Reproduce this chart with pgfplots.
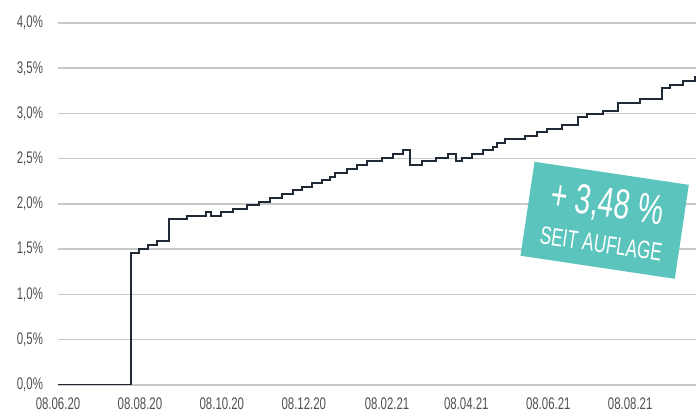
\documentclass[border=0pt]{standalone}
\usepackage{pgfplots}
\pgfplotsset{compat=1.18}
\usepackage{fontspec}
\setmainfont{Liberation Sans}[FakeStretch=0.68]
\definecolor{gridgray}{HTML}{C8C8C8}
\definecolor{linenavy}{HTML}{1F2A36}
\definecolor{badge}{HTML}{5BC4BC}
\definecolor{labelgray}{HTML}{505050}

\begin{document}
\begin{tikzpicture}
\begin{axis}[
  scale only axis,
  width=319pt, height=181pt,
  xmin=0, xmax=475, ymin=0, ymax=4,
  axis line style={draw=none},
  tick style={draw=none},
  xtick={0,61,122,183,245,304,365,426},
  xticklabels={08.06.20,08.08.20,08.10.20,08.12.20,08.02.21,08.04.21,08.06.21,08.08.21},
  ytick={0,0.5,1,1.5,2,2.5,3,3.5,4},
  yticklabels={{0,0\%},{0,5\%},{1,0\%},{1,5\%},{2,0\%},{2,5\%},{3,0\%},{3,5\%},{4,0\%}},
  ymajorgrids,
  major grid style={gridgray, line width=0.75pt},
  ticklabel style={font=\fontsize{8.4}{10}\selectfont, text=labelgray},
  yticklabel style={xshift=-4pt},
  xticklabel style={yshift=-3pt},
]
% days since 08.06.20, value in %
\addplot[const plot, linenavy, line width=1pt] coordinates {
  (0,0) (54,1.46) (60.5,1.50) (67,1.55) (73.5,1.59) (83,1.83)
  (96,1.87) (110,1.91) (114,1.87) (121,1.91) (130.5,1.945) (140.5,1.99)
  (150,2.02) (158,2.07) (167,2.11) (175,2.15) (181.5,2.19) (189,2.23)
  (196.5,2.265) (202.5,2.30) (206,2.34) (215,2.39) (222.5,2.43) (230,2.475)
  (241,2.51) (249.5,2.55) (256.5,2.60) (262,2.43) (271,2.47) (281.5,2.51)
  (290.5,2.55) (296.5,2.47) (300.5,2.505) (308,2.55) (316.5,2.60) (324,2.63)
  (326.5,2.67) (333,2.72) (347.5,2.755) (356.5,2.79) (364,2.83) (375,2.87)
  (387.5,2.96) (393.5,2.99) (406,3.03) (417,3.12) (433.5,3.16) (449.5,3.28)
  (455.5,3.32) (465,3.36) (474,3.40) (475,3.40)
};
\node[fill=badge, rotate=-8.5, minimum width=78pt, minimum height=47.5pt,
  text=white, align=center, inner sep=0pt] at (axis cs:407,1.82)
  {{\fontsize{21}{21}\selectfont + 3,48 \%}\\[6pt]{\fontsize{12.6}{13}\selectfont SEIT AUFLAGE}};
\coordinate (bl) at (rel axis cs:-0.0909,-0.0801);
\coordinate (tr) at (rel axis cs:1,1.0635);
\end{axis}
\pgfresetboundingbox
\useasboundingbox (bl) rectangle (tr);
\end{tikzpicture}
\end{document}
